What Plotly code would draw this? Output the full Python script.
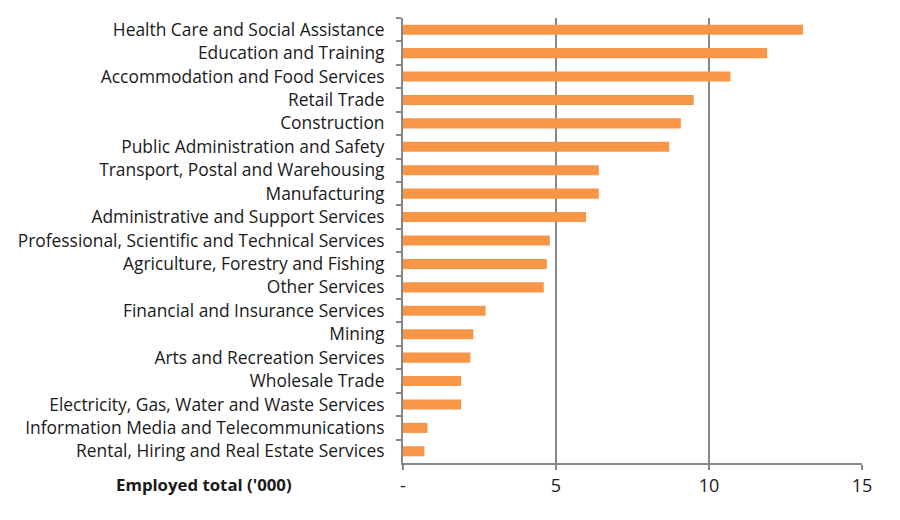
import plotly.graph_objects as go

industries = [
    "Health Care and Social Assistance",
    "Education and Training",
    "Accommodation and Food Services",
    "Retail Trade",
    "Construction",
    "Public Administration and Safety",
    "Transport, Postal and Warehousing",
    "Manufacturing",
    "Administrative and Support Services",
    "Professional, Scientific and Technical Services",
    "Agriculture, Forestry and Fishing",
    "Other Services",
    "Financial and Insurance Services",
    "Mining",
    "Arts and Recreation Services",
    "Wholesale Trade",
    "Electricity, Gas, Water and Waste Services",
    "Information Media and Telecommunications",
    "Rental, Hiring and Real Estate Services",
]
employed = [13.07, 11.9, 10.7, 9.5, 9.08, 8.7, 6.4, 6.4, 5.98, 4.8, 4.7, 4.6,
            2.7, 2.3, 2.2, 1.9, 1.9, 0.8, 0.7]

tick_vals = [0, 5, 10, 15]
tick_text = ["-", "5", "10", "15"]

fig = go.Figure(go.Bar(
    x=employed, y=industries, orientation="h",
    marker=dict(color="#F79646", line=dict(width=0)),
))

fig.update_layout(
    width=900, height=520,
    margin=dict(l=395, r=46, t=10, b=65),
    paper_bgcolor="white", plot_bgcolor="white",
    bargap=0.57,
    showlegend=False,
    font=dict(family="Open Sans", size=17.4, color="#1a1a1a"),
    annotations=[dict(
        text="<b>Employed total ('000)</b>", xref="paper", yref="paper",
        x=-0.434, y=-0.049, xanchor="center", yanchor="middle", showarrow=False,
        font=dict(family="Open Sans", size=16.8, color="#1a1a1a"),
    )],
)
fig.update_xaxes(
    range=[0, 15], tickvals=tick_vals, ticktext=tick_text,
    showgrid=True, gridcolor="#878787", gridwidth=2,
    showline=True, linecolor="#878787", linewidth=2,
    ticks="outside", ticklen=5, tickcolor="#878787", tickwidth=2,
    zeroline=False, tickfont=dict(size=18),
)
fig.update_yaxes(
    autorange="reversed", showline=True, linecolor="#878787", linewidth=2,
    ticks="outside", ticklen=5, tickcolor="#878787", tickwidth=2,
    tickson="boundaries", showgrid=False, ticklabelstandoff=13,
)

fig.write_html("out.html")
